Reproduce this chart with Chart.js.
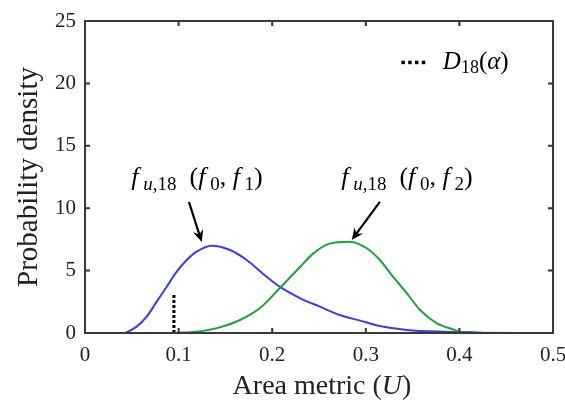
<!DOCTYPE html>
<html>
<head>
<meta charset="utf-8">
<script src="https://cdn.jsdelivr.net/npm/chart.js@4/dist/chart.umd.min.js"></script>
<style>
  html, body { margin: 0; padding: 0; background: #fff; }
  #wrap { width: 565px; height: 401px; position: relative; }
</style>
</head>
<body>
<div id="wrap"><canvas id="chart"></canvas></div>
<script>
// values
const blueX  = [0.043, 0.0552, 0.0659, 0.0766, 0.0873, 0.098, 0.1087, 0.1193, 0.1353, 0.155, 0.1727, 0.194, 0.208, 0.230, 0.251, 0.272, 0.294, 0.315, 0.344, 0.383, 0.422, 0.425];
const blueY  = [0, 0.51, 1.31, 2.51, 3.71, 4.91, 5.85, 6.52, 7.0, 6.65, 5.85, 4.51, 3.71, 2.78, 2.11, 1.44, 0.99, 0.56, 0.24, 0.10, 0.03, 0];
const greenX = [0, 0.100, 0.119, 0.144, 0.1656, 0.187, 0.208, 0.230, 0.244, 0.262, 0.283, 0.301, 0.315, 0.329, 0.344, 0.358, 0.376, 0.394, 0.404, 0.468];
const greenY = [0, 0, 0.10, 0.45, 1.04, 2.0, 3.58, 5.31, 6.38, 7.18, 7.32, 6.79, 5.85, 4.51, 3.18, 1.84, 0.77, 0.27, 0.02, 0];
const dX = [0.095, 0.095];
const dY = [0, 3.2];
const blackX = [0.100, 0.120, null, 0.390, 0.415];
const blackY = [0, 0, null, 0, 0];
const xTicks = [0, 0.1, 0.2, 0.3, 0.4, 0.5];
const yTicks = [0, 5, 10, 15, 20, 25];

const pts = (xs, ys) => xs.map((x, i) => x === null ? { x: null, y: null } : { x, y: ys[i] });

const SERIF = '"Liberation Serif", "DejaVu Serif", serif';

// rich text: segments [text, italic, sub]
function drawRich(ctx, segs, cx, cy, size, color) {
  const subSize = Math.round(size * 0.72);
  const font = (s) => `${s[1] ? 'italic ' : ''}${s[2] ? subSize : size}px ${SERIF}`;
  let w = 0;
  segs.forEach(s => { ctx.font = font(s); w += ctx.measureText(s[0]).width; });
  let x = cx - w / 2;
  ctx.textBaseline = 'middle';
  ctx.textAlign = 'left';
  ctx.fillStyle = color || '#000';
  segs.forEach(s => {
    ctx.font = font(s);
    ctx.fillText(s[0], x, s[2] ? cy + size * 0.25 : cy);
    x += ctx.measureText(s[0]).width;
  });
}

function arrow(ctx, x1, y1, x2, y2) {
  const a = Math.atan2(y2 - y1, x2 - x1);
  const L = 13, W = 0.42;
  ctx.strokeStyle = '#000';
  ctx.fillStyle = '#000';
  ctx.lineWidth = 2.2;
  ctx.beginPath();
  ctx.moveTo(x1, y1);
  ctx.lineTo(x2 - Math.cos(a) * 6, y2 - Math.sin(a) * 6);
  ctx.stroke();
  ctx.beginPath();
  ctx.moveTo(x2, y2);
  ctx.lineTo(x2 - L * Math.cos(a - W), y2 - L * Math.sin(a - W));
  ctx.lineTo(x2 - L * 0.6 * Math.cos(a), y2 - L * 0.6 * Math.sin(a));
  ctx.lineTo(x2 - L * Math.cos(a + W), y2 - L * Math.sin(a + W));
  ctx.closePath();
  ctx.fill();
}

const labelF1 = [['f', true], [' ', false, true], ['u', true, true], [',18', false, true], ['  (', false], ['f', true], [' 0', false, true], [', ', false], ['f', true], [' 1', false, true], [')', false]];
const labelF2 = [['f', true], [' ', false, true], ['u', true, true], [',18', false, true], ['  (', false], ['f', true], [' 0', false, true], [', ', false], ['f', true], [' 2', false, true], [')', false]];
const labelD  = [['D', true], ['18', false, true], ['(', false], ['α', true], [')', false]];
const xTitle  = [['Area metric (', false], ['U', true], [')', false]];

const frame = {
  id: 'frame',
  afterDraw(chart) {
    const { ctx, chartArea: a, scales: { x, y } } = chart;
    ctx.save();
    // inward ticks on all four sides
    ctx.strokeStyle = '#333';
    ctx.lineWidth = 2;
    ctx.beginPath();
    xTicks.forEach(v => {
      const px = x.getPixelForValue(v);
      ctx.moveTo(px, a.bottom); ctx.lineTo(px, a.bottom - 5);
      ctx.moveTo(px, a.top); ctx.lineTo(px, a.top + 5);
    });
    yTicks.forEach(v => {
      const py = y.getPixelForValue(v);
      ctx.moveTo(a.left, py); ctx.lineTo(a.left + 5, py);
      ctx.moveTo(a.right, py); ctx.lineTo(a.right - 5, py);
    });
    ctx.stroke();
    ctx.strokeStyle = '#3a3a3a';
    ctx.lineWidth = 2;
    ctx.strokeRect(a.left, a.top, a.right - a.left, a.bottom - a.top);

    // x axis title (italic U)
    drawRich(ctx, xTitle, (a.left + a.right) / 2 + 3, a.bottom + 54, 28, '#222');

    // annotations
    drawRich(ctx, labelF1, x.getPixelForValue(0.1197), y.getPixelForValue(12.4), 26);
    drawRich(ctx, labelF2, x.getPixelForValue(0.344), y.getPixelForValue(12.4), 26);
    arrow(ctx, x.getPixelForValue(0.111), y.getPixelForValue(10.5), x.getPixelForValue(0.1247), y.getPixelForValue(7.3));
    arrow(ctx, x.getPixelForValue(0.315), y.getPixelForValue(10.5), x.getPixelForValue(0.285), y.getPixelForValue(7.45));

    // legend
    const ly = y.getPixelForValue(21.7);
    const lx = x.getPixelForValue(0.338);
    ctx.fillStyle = '#000';
    for (let i = 0; i < 4; i++) ctx.fillRect(lx + i * 6.8, ly - 1.5, 3.5, 3.5);
    drawRich(ctx, labelD, x.getPixelForValue(0.4175), ly, 25);
    ctx.restore();
  }
};

new Chart(document.getElementById('chart'), {
  type: 'line',
  data: {
    datasets: [
      { data: pts(greenX, greenY), borderColor: '#1aa33a', borderWidth: 2, cubicInterpolationMode: 'monotone', pointRadius: 0 },
      { data: pts(blueX, blueY), borderColor: '#3a3aff', borderWidth: 2, cubicInterpolationMode: 'monotone', pointRadius: 0 },
      { data: pts(blackX, blackY), borderColor: '#111', borderWidth: 2.5, pointRadius: 0, spanGaps: false },
      { data: pts(dX, dY), borderColor: '#000', borderWidth: 3, borderDash: [3, 2], pointRadius: 0 }
    ]
  },
  options: {
    responsive: true,
    maintainAspectRatio: false,
    animation: false,
    devicePixelRatio: 1,
    layout: { padding: { top: 21, right: 12, left: 0, bottom: 0 } },
    plugins: { legend: { display: false }, tooltip: { enabled: false } },
    scales: {
      x: {
        type: 'linear', min: 0, max: 0.5,
        afterFit: s => { s.height = 68; s.paddingLeft = 0; s.paddingRight = 0; },
        afterBuildTicks: s => { s.ticks = xTicks.map(v => ({ value: v })); },
        grid: { display: false, drawTicks: false },
        border: { display: false },
        ticks: { padding: 10, color: '#222', font: { family: SERIF, size: 21 }, maxRotation: 0 },
        title: { display: false }
      },
      y: {
        min: 0, max: 25,
        afterFit: s => { s.width = 85; s.paddingTop = 0; s.paddingBottom = 0; },
        afterBuildTicks: s => { s.ticks = yTicks.map(v => ({ value: v })); },
        grid: { display: false, drawTicks: false },
        border: { display: false },
        ticks: { padding: 9, color: '#222', font: { family: SERIF, size: 21 } },
        title: { display: true, text: 'Probability density', color: '#222', font: { family: SERIF, size: 29 }, padding: { top: 12, bottom: 0 } }
      }
    }
  },
  plugins: [frame]
});
</script>
</body>
</html>
